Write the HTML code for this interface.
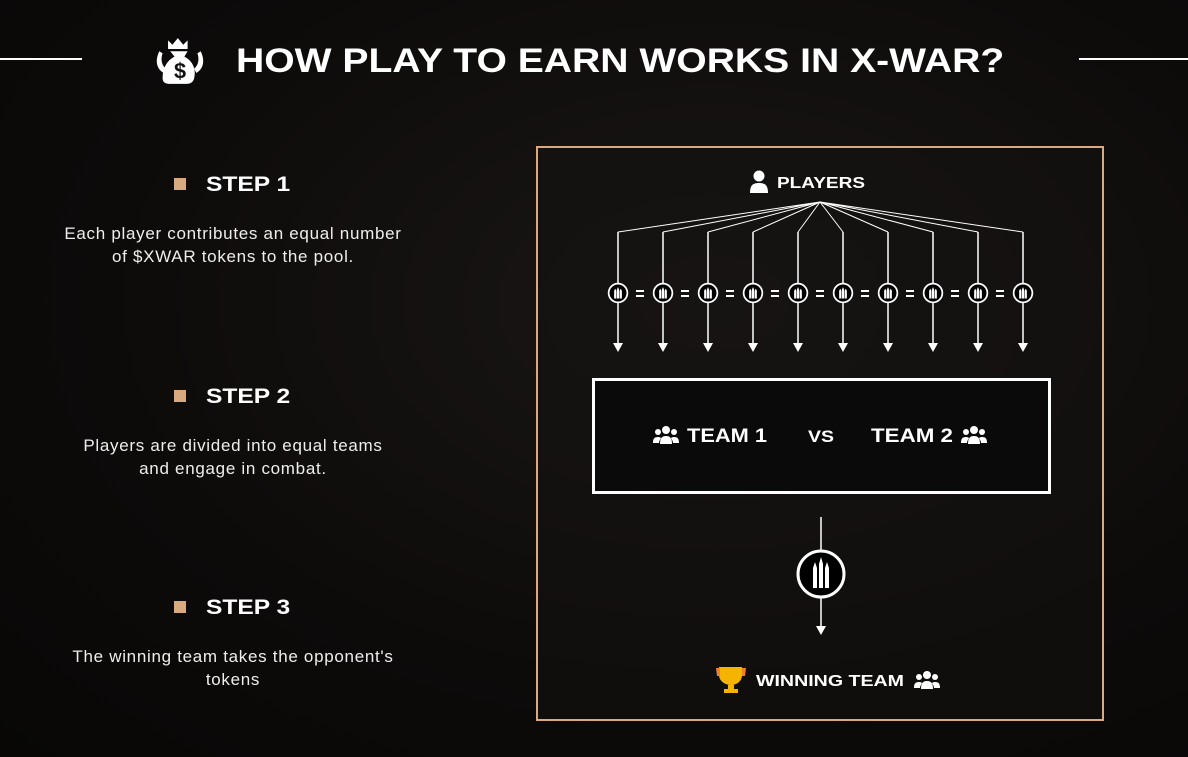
<!DOCTYPE html>
<html><head><meta charset="utf-8"><style>
html,body{margin:0;padding:0}
body{width:1188px;height:757px;overflow:hidden;background:radial-gradient(ellipse at 60% 40%,#1a1716 0%,#0d0b0a 60%,#080706 100%);font-family:"Liberation Sans",sans-serif;color:#fff;position:relative}
.t{position:absolute;font-weight:bold;white-space:nowrap;transform-origin:0 0}
.p{position:absolute;font-size:17px;letter-spacing:0.7px;text-align:center;color:#eee;line-height:23px;width:440px;left:13px}
.sq{position:absolute;width:12px;height:12px;background:#d9aa80}
</style></head><body>
<div style="position:absolute;left:0;top:58px;width:82px;height:2px;background:#fff"></div>
<div style="position:absolute;left:1079px;top:58px;width:109px;height:2px;background:#fff"></div>
<div class="t" style="left:236px;top:42px;font-size:34px;transform:scaleX(1.15)">HOW PLAY TO EARN WORKS IN X-WAR?</div>
<svg style="position:absolute;left:152px;top:36px" width="56" height="50" viewBox="0 0 50 46">
<path d="M14 4l4 4 5-6 5 6 4-4v8H14z" fill="#fff"/>
<path d="M6 14c-4 8-3 16 4 20l2-4c-4-3-5-9-3-14z M44 14c4 8 3 16-4 20l-2-4c4-3 5-9 3-14z" fill="#fff"/>
<path d="M16 14h16l-3 5c8 4 11 12 9 20c-1 4-4 5-7 5H15c-4 0-6-2-6-5c0-8 3-16 11-20z" fill="#fff"/>
<text x="25" y="39" font-size="20" font-weight="bold" text-anchor="middle" fill="#111" font-family="Liberation Sans">$</text>
</svg>

<div class="sq" style="left:174px;top:178px"></div>
<div class="t" style="left:206px;top:173px;font-size:21px;transform:scaleX(1.17)">STEP 1</div>
<div class="p" style="top:222px">Each player contributes an equal number<br>of $XWAR tokens to the pool.</div>
<div class="sq" style="left:174px;top:390px"></div>
<div class="t" style="left:206px;top:385px;font-size:21px;transform:scaleX(1.17)">STEP 2</div>
<div class="p" style="top:434px">Players are divided into equal teams<br>and engage in combat.</div>
<div class="sq" style="left:174px;top:601px"></div>
<div class="t" style="left:206px;top:596px;font-size:21px;transform:scaleX(1.17)">STEP 3</div>
<div class="p" style="top:645px">The winning team takes the opponent's<br>tokens</div>

<div style="position:absolute;left:536px;top:146px;width:564px;height:571px;border:2px solid #d9aa80;background:rgba(20,18,17,0.55)"></div>
<div style="position:absolute;left:592px;top:378px;width:453px;height:110px;border:3px solid #fff;background:#0b0a0a"></div>

<svg style="position:absolute;left:0;top:0" width="1188" height="757">
<defs>
<symbol id="grp" viewBox="0 0 26 20"><circle cx="13" cy="5" r="4" fill="#fff"/><circle cx="5" cy="7" r="3" fill="#fff"/><circle cx="21" cy="7" r="3" fill="#fff"/><path d="M7 19c0-6 2-8 6-8s6 2 6 8z M0 18c0-4 1-6 5-6 2 0 3 1 3 1-1 2-2 3-2 5z M26 18c0-4-1-6-5-6-2 0-3 1-3 1 1 2 2 3 2 5z" fill="#fff"/></symbol>
<symbol id="coin" viewBox="0 0 20 20"><circle cx="10" cy="10" r="8.5" fill="#000" stroke="#fff" stroke-width="1.6"/><path d="M6.5 15V8l1-2 1 2v7z M9 15V7l1-2.5 1 2.5v8z M11.5 15V8l1-2 1 2v7z" fill="#fff"/></symbol>
<g id="col"><path d="M0 232V345" stroke="#fff" stroke-width="1.5"/><path d="M-5 343h10l-5 9z" fill="#fff"/><use href="#coin" x="-11" y="282" width="22" height="22"/></g>
</defs>
<g stroke="#fff" stroke-width="1" fill="none">
<path d="M820 202L618 232M820 202L663 232M820 202L708 232M820 202L753 232M820 202L798 232M820 202L843 232M820 202L888 232M820 202L933 232M820 202L978 232M820 202L1023 232"/>
</g>
<use href="#col" x="618"/><use href="#col" x="663"/><use href="#col" x="708"/><use href="#col" x="753"/><use href="#col" x="798"/><use href="#col" x="843"/><use href="#col" x="888"/><use href="#col" x="933"/><use href="#col" x="978"/><use href="#col" x="1023"/>
<g fill="#fff"><rect x="636" y="290" width="8" height="2"/><rect x="636" y="295" width="8" height="2"/>
<rect x="681" y="290" width="8" height="2"/><rect x="681" y="295" width="8" height="2"/>
<rect x="726" y="290" width="8" height="2"/><rect x="726" y="295" width="8" height="2"/>
<rect x="771" y="290" width="8" height="2"/><rect x="771" y="295" width="8" height="2"/>
<rect x="816" y="290" width="8" height="2"/><rect x="816" y="295" width="8" height="2"/>
<rect x="861" y="290" width="8" height="2"/><rect x="861" y="295" width="8" height="2"/>
<rect x="906" y="290" width="8" height="2"/><rect x="906" y="295" width="8" height="2"/>
<rect x="951" y="290" width="8" height="2"/><rect x="951" y="295" width="8" height="2"/>
<rect x="996" y="290" width="8" height="2"/><rect x="996" y="295" width="8" height="2"/></g>
<circle cx="759" cy="176" r="5.5" fill="#fff"/><path d="M750 193c0-8 3-10 9-10s9 2 9 10z" fill="#fff"/>
<text x="777" y="188" font-size="16" font-weight="bold" fill="#fff" font-family="Liberation Sans" textLength="88" lengthAdjust="spacingAndGlyphs">PLAYERS</text>
<use href="#grp" x="653" y="425" width="26" height="20"/>
<text x="687" y="442" font-size="19" font-weight="bold" fill="#fff" font-family="Liberation Sans" textLength="80" lengthAdjust="spacingAndGlyphs">TEAM 1</text>
<text x="808" y="442" font-size="17" font-weight="bold" fill="#fff" font-family="Liberation Sans" textLength="26" lengthAdjust="spacingAndGlyphs">VS</text>
<text x="871" y="442" font-size="19" font-weight="bold" fill="#fff" font-family="Liberation Sans" textLength="82" lengthAdjust="spacingAndGlyphs">TEAM 2</text>
<use href="#grp" x="961" y="425" width="26" height="20"/>
<path d="M821 517V627" stroke="#fff" stroke-width="1.5"/><path d="M816 626h10l-5 9z" fill="#fff"/>
<circle cx="821" cy="574" r="23" fill="#000" stroke="#fff" stroke-width="3"/>
<path d="M813 588V568l2-6 2 6v20z M819 588V564l2-7 2 7v24z M825 588V568l2-6 2 6v20z" fill="#fff"/>
<path d="M719 667h23v8c0 6-5 10-11 10s-12-4-12-10z" fill="#f5b400"/><path d="M716 668h4v8h-3zM742 668h4l-1 8h-3z" fill="#f08030"/>
<rect x="728" y="685" width="6" height="4" fill="#f5b400"/><rect x="724" y="689" width="14" height="4" fill="#f5b400"/>
<text x="756" y="686" font-size="16" font-weight="bold" fill="#fff" font-family="Liberation Sans" textLength="148" lengthAdjust="spacingAndGlyphs">WINNING TEAM</text>
<use href="#grp" x="914" y="670" width="26" height="20"/>
</svg>
</body></html>
